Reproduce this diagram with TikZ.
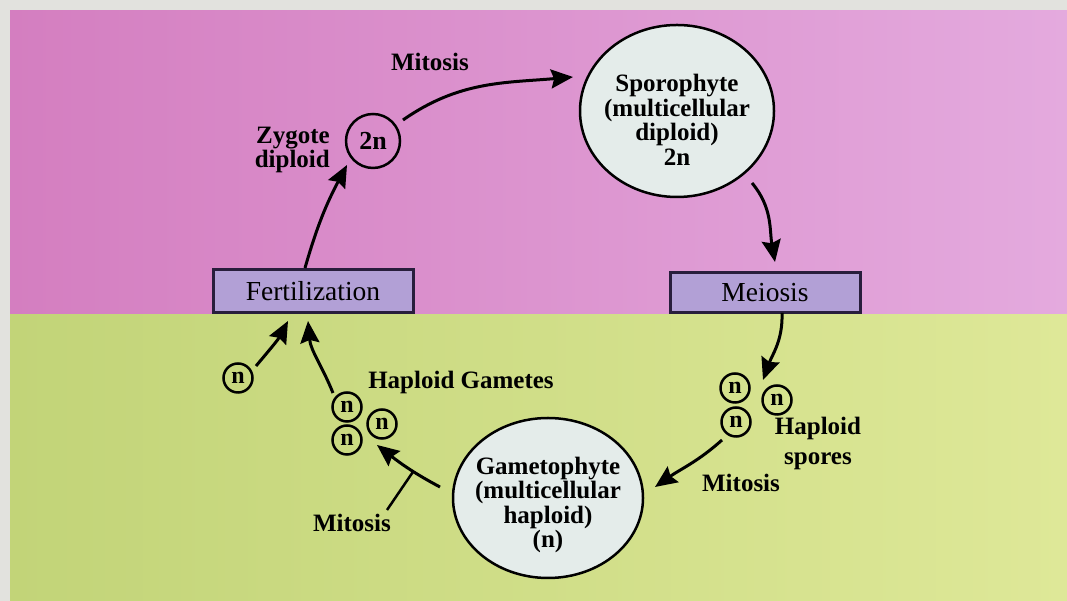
\documentclass[tikz,border=0pt]{standalone}
\usepackage{fontspec}
\setmainfont{Liberation Serif}
\usetikzlibrary{arrows.meta,calc,shapes.geometric}
\definecolor{pinkL}{RGB}{212,126,192}
\definecolor{pinkR}{RGB}{228,170,222}
\definecolor{greenL}{RGB}{194,212,120}
\definecolor{greenR}{RGB}{222,232,152}
\definecolor{paper}{RGB}{226,226,222}
\definecolor{cellfill}{RGB}{228,236,234}
\definecolor{boxfill}{RGB}{178,160,214}
\definecolor{boxline}{RGB}{40,30,60}
\tikzset{
  lbl/.style={font=\fontsize{25}{24}\selectfont\bfseries, align=center, inner sep=0pt},
  celltext/.style={font=\fontsize{25}{24.5}\selectfont\bfseries, align=center, inner sep=0pt},
  cell/.style={ellipse, draw=black, line width=2.5pt, fill=cellfill, inner sep=0pt},
  stagebox/.style={rectangle, draw=boxline, line width=3pt, fill=boxfill, inner sep=0pt,
    font=\fontsize{27.5}{27.5}\selectfont},
  ncirc/.style={circle, draw=black, line width=2.5pt, minimum size=29pt, inner sep=0pt,
    font=\fontsize{24}{24}\selectfont\bfseries},
  arr/.style={line width=3pt, -{Stealth[length=22pt,width=19pt,inset=3pt]}},
}
\begin{document}
\begin{tikzpicture}[x=1pt,y=1pt]
\useasboundingbox (0,0) rectangle (1067,601);
% backgrounds
\fill[paper] (0,0) rectangle (1067,601);
\shade[left color=pinkL, right color=pinkR] (10,286) rectangle (1067,590);
\shade[left color=greenL, right color=greenR] (10,0) rectangle (1067,286);

% nodes
\node[circle, draw=black, line width=2.5pt, minimum size=54pt, inner sep=0pt,
      font=\fontsize{26}{26}\selectfont\bfseries] (zyg) at (373,460) {2n};
\node[lbl, anchor=east, align=right] (zyglbl) at (330,451) {Zygote\\diploid};
\node[lbl] (mitT) at (430,539) {Mitosis};
\node[cell, minimum width=194pt, minimum height=172pt] (spo) at (677,490) {};
\node[celltext] (spotext) at ($(spo)+(0,-9)$)
  {Sporophyte\\(multicellular\\diploid)\\2n};
\node[stagebox, minimum width=190pt, minimum height=40pt] (meio) at (765,308) {Meiosis};
\node[stagebox, minimum width=200pt, minimum height=43pt] (fert) at (313,309.5) {Fertilization};
\node[ncirc] (s1) at (735,213) {n};
\node[ncirc] (s2) at (777,201) {n};
\node[ncirc] (s3) at (736,179) {n};
\node[font=\fontsize{25}{30}\selectfont\bfseries, align=center, inner sep=0pt]
  (sporelbl) at (818,158) {Haploid\\spores};
\node[lbl] (mitR) at (741,118) {Mitosis};
\node[cell, minimum width=190pt, minimum height=160pt] (game) at (548,103) {};
\node[celltext] (gametext) at ($(game)+(0,-7)$)
  {Gametophyte\\(multicellular\\haploid)\\(n)};
\node[ncirc] (g1) at (347,194) {n};
\node[ncirc] (g2) at (382,177) {n};
\node[ncirc] (g3) at (347,161) {n};
\node[ncirc] (ng) at (238,223) {n};
\node[lbl] (gamlbl) at (461,219) {Haploid Gametes};
\node[lbl] (mitL) at (352,78) {Mitosis};

% connectors
\draw[arr] ($(zyg)+(30,21)$) to[out=35,in=185] ($(spo)+(-104,34)$);
\draw[arr] ($(spo)+(75,-72)$) to[out=-50,in=100] ($(meio)+(10,31)$);
\draw[arr] ($(meio)+(17,-20)$) to[out=-88,in=70] ($(s2)+(-14,20)$);
\draw[arr] ($(s3)+(-14,-18)$) to[out=-138,in=35] ($(game)+(107,11)$);
\draw[arr] ($(game)+(-108,11)$) to[out=152,in=-38] coordinate[pos=0.4] (tick) ($(g2)+(-5,-21)$);
\draw[line width=2.5pt] ($(mitL)+(35,13)$) -- (tick);
\draw[arr] ($(g1)+(-14,14)$) to[out=112,in=-85] ($(fert)+(-5,-29.5)$);
\draw[arr] ($(ng)+(18,12)$) to[out=50,in=-118] ($(fert)+(-25,-29.5)$);
\draw[arr] ($(fert)+(-8,23.5)$) to[out=74,in=-118] ($(zyg)+(-26,-24)$);
\end{tikzpicture}
\end{document}
